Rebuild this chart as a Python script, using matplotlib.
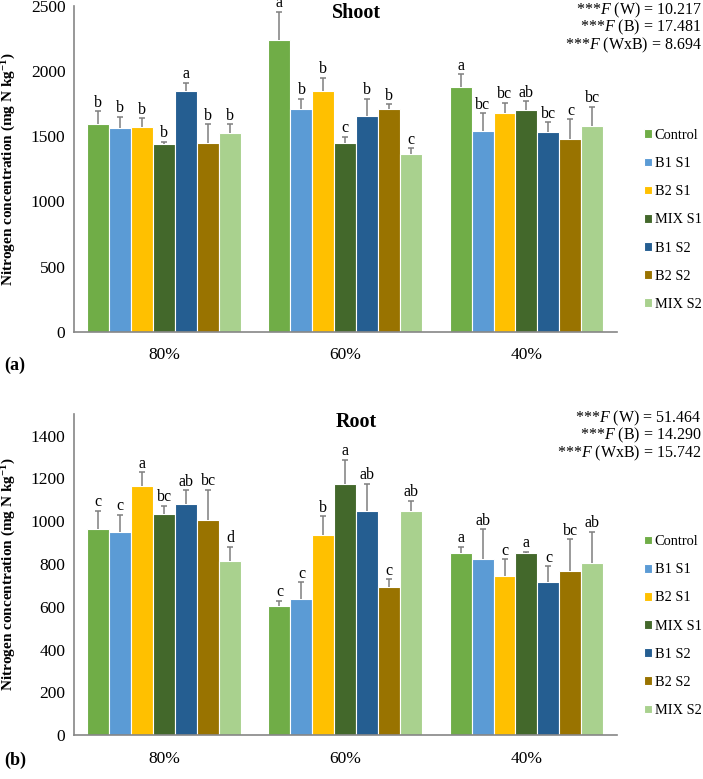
import numpy as np
import matplotlib
matplotlib.use("Agg")
import matplotlib.pyplot as plt

# -----------------------------------------
# DATA
# -----------------------------------------

groups = ["80%", "60%", "40%"]
treatments = ["Control", "B1 S1", "B2 S1", "MIX S1", "B1 S2", "B2 S2", "MIX S2"]
colors = ["#70AD47", "#5B9BD5", "#FFC000", "#43682B", "#255E91", "#997300", "#A9D18E"]

# shoot: rows = treatments, cols = 80%, 60%, 40%
shoot_mean = [
    [1592, 2236, 1880],
    [1567, 1713, 1538],
    [1572, 1846, 1675],
    [1444, 1446, 1703],
    [1846, 1659, 1534],
    [1451, 1711, 1482],
    [1523, 1362, 1580],
]
shoot_err = [
    [100, 221, 95],
    [82, 75, 137],
    [66, 105, 79],
    [15, 49, 64],
    [64, 129, 74],
    [141, 33, 149],
    [69, 46, 146],
]
shoot_letters = [
    ["b", "a", "a"],
    ["b", "b", "bc"],
    ["b", "b", "bc"],
    ["b", "c", "ab"],
    ["a", "b", "bc"],
    ["b", "b", "c"],
    ["b", "c", "bc"],
]
shoot_stats = ["***$F$ (W) = 10.217", "***$F$ (B) = 17.481", "***$F$ (WxB) = 8.694"]

root_mean = [
    [962, 603, 851],
    [949, 639, 826],
    [1163, 935, 744],
    [1035, 1172, 851],
    [1080, 1049, 716],
    [1006, 694, 770],
    [814, 1049, 806],
]
root_err = [
    [87, 25, 31],
    [80, 75, 136],
    [66, 88, 78],
    [38, 116, 6],
    [64, 126, 73],
    [140, 34, 145],
    [68, 47, 145],
]
root_letters = [
    ["c", "c", "a"],
    ["c", "c", "ab"],
    ["a", "b", "c"],
    ["bc", "a", "a"],
    ["ab", "ab", "c"],
    ["bc", "c", "bc"],
    ["d", "ab", "ab"],
]
root_stats = ["***$F$ (W) = 51.464", "***$F$ (B) = 14.290", "***$F$ (WxB) = 15.742"]

# -----------------------------------------
# STYLE
# -----------------------------------------

plt.rcParams["font.family"] = ["Liberation Serif", "DejaVu Serif"]
plt.rcParams["mathtext.fontset"] = "custom"
plt.rcParams["mathtext.it"] = "Liberation Serif:italic"
plt.rcParams["mathtext.rm"] = "Liberation Serif"
plt.rcParams["mathtext.bf"] = "Liberation Serif:bold"

AXIS_GRAY = "#868686"
YLABEL = "Nitrogen concentration (mg N kg$^{\\mathbf{-1}}$)"


def draw_panel(ax, means, errs, letters, ymax, ystep, title, fig, leg_top):
    x = np.arange(len(groups))
    width = 0.85 / len(treatments)
    for i, name in enumerate(treatments):
        pos = x - 0.425 + width * (i + 0.5)
        ax.bar(pos, means[i], width, color=colors[i], edgecolor="white",
               linewidth=0.8, label=name, zorder=2)
        eb = ax.errorbar(pos, means[i], yerr=[np.zeros(3), errs[i]], fmt="none",
                         ecolor="#7F7F7F", elinewidth=1.1, capsize=2.2,
                         capthick=1.1, zorder=3)
        eb[1][0].set_visible(False)  # no cap at the bar top
        for j in range(len(groups)):
            ax.annotate(letters[i][j], (pos[j], means[i][j] + errs[i][j]),
                        xytext=(0, 0.5), textcoords="offset points",
                        ha="center", va="bottom", fontsize=11.5,
                        annotation_clip=False)

    ax.set_xlim(-0.5, 2.5)
    ax.set_ylim(0, ymax)
    ax.set_yticks(np.arange(0, ymax, ystep) if ymax % ystep
                  else np.arange(0, ymax + 1, ystep))
    ax.set_xticks(x)
    ax.set_xticklabels(groups)
    ax.tick_params(length=0, labelsize=12.5, pad=6)
    ax.tick_params(axis="x", pad=11)
    for s in ["top", "right"]:
        ax.spines[s].set_visible(False)
    for s in ["left", "bottom"]:
        ax.spines[s].set_color(AXIS_GRAY)
        ax.spines[s].set_linewidth(1.2)

    ax.text(0.52, 0.977, title, transform=ax.transAxes, ha="center",
            va="center", fontsize=14.5, fontweight="bold")

    ax.legend(loc="upper left", bbox_to_anchor=(0.9075, leg_top),
              bbox_transform=fig.transFigure, frameon=False,
              handlelength=0.55, handleheight=0.55, handletextpad=0.2,
              labelspacing=1.05, fontsize=10.4, borderaxespad=0)


fig = plt.figure(figsize=(7.03, 7.79), dpi=100)

ax1 = fig.add_axes([0.105, 0.5742, 0.7727, 0.4181])
draw_panel(ax1, shoot_mean, shoot_err, shoot_letters, 2500, 500, "Shoot",
           fig, 0.842)
ax2 = fig.add_axes([0.105, 0.0561, 0.7727, 0.4121])
draw_panel(ax2, root_mean, root_err, root_letters, 1500, 200, "Root",
           fig, 0.3205)

for k, line in enumerate(shoot_stats):
    fig.text(0.998, 0.987 - k * 0.0225, line, ha="right", va="center", fontsize=11.5)
for k, line in enumerate(root_stats):
    fig.text(0.998, 0.463 - k * 0.0225, line, ha="right", va="center", fontsize=11.5)

fig.text(0.013, 0.5742 + 0.4181 / 2, YLABEL, rotation=90, ha="center",
         va="center", fontsize=11, fontweight="bold")
fig.text(0.013, 0.0561 + 0.4121 / 2, YLABEL, rotation=90, ha="center",
         va="center", fontsize=11, fontweight="bold")

fig.text(0.006, 0.531, "(a)", fontsize=13, fontweight="bold", va="center")
fig.text(0.006, 0.024, "(b)", fontsize=13, fontweight="bold", va="center")

fig.savefig("out.png", dpi=100)
